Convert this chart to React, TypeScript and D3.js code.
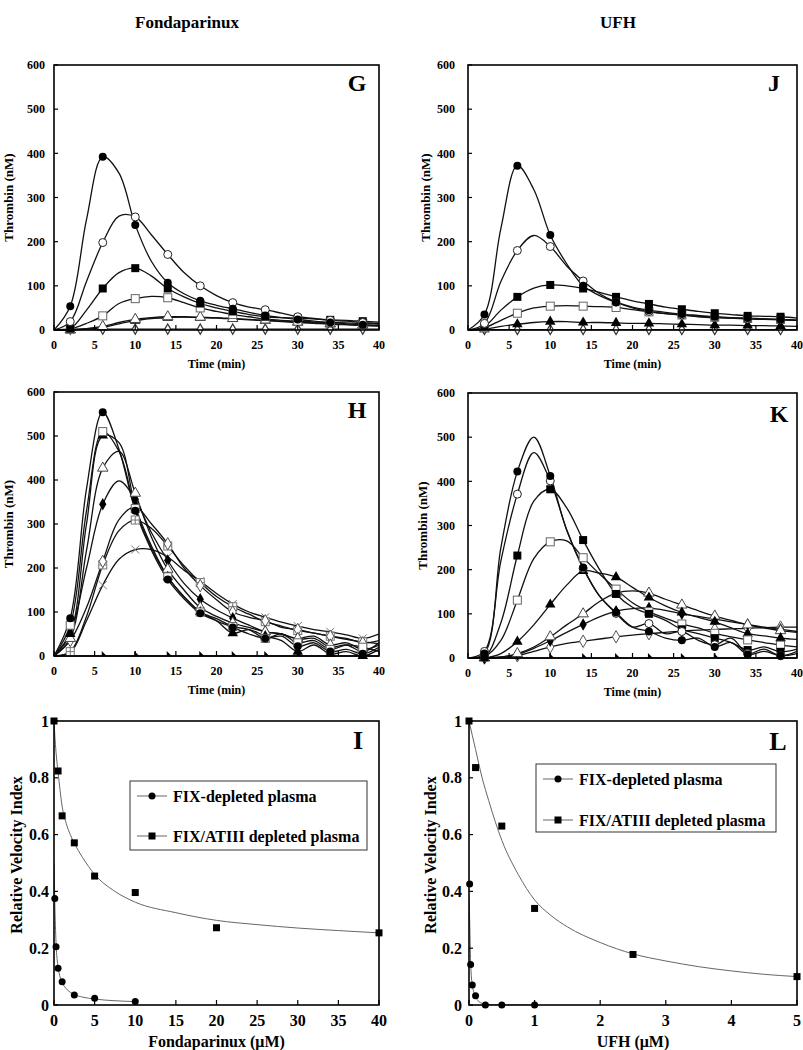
import React from 'react';
import * as d3 from 'd3';

const FONT = '"Times New Roman", "Liberation Serif", "DejaVu Serif", serif';

// ---------- shared grids / ticks ----------
const timeGrid = [0, 2, 4, 6, 8, 10, 12, 14, 16, 18, 20, 22, 24, 26, 28, 30, 32, 34, 36, 38, 40];
const markerTimes = [2, 6, 10, 14, 18, 22, 26, 30, 34, 38];
const timeTicks = [0, 5, 10, 15, 20, 25, 30, 35, 40];
const thrombinTicks = [0, 100, 200, 300, 400, 500, 600];
const rviTicks = [0, 0.2, 0.4, 0.6, 0.8, 1];
const rviTickLabels = ['0', '0.2', '0.4', '0.6', '0.8', '1'];
const fondaTicks = [0, 5, 10, 15, 20, 25, 30, 35, 40];
const ufhTicks = [0, 1, 2, 3, 4, 5];
const columnTitles = ['Fondaparinux', 'UFH'];

// ---------- Panel G (Fondaparinux, FIX-depleted) ----------
const gCircleFilled = [0, 54, 250, 392, 355, 238, 155, 107, 82, 66, 56, 48, 40, 33, 28, 24, 20, 17, 14, 12, 10];
const gCircleOpen = [0, 19, 110, 198, 258, 256, 215, 171, 130, 100, 78, 62, 52, 46, 38, 30, 26, 22, 20, 17, 15];
const gSquareFilled = [0, 3, 45, 94, 130, 140, 122, 94, 75, 60, 50, 42, 35, 30, 28, 27, 25, 23, 22, 20, 18];
const gSquareOpen = [0, 2, 15, 32, 60, 71, 76, 73, 62, 50, 42, 35, 30, 25, 22, 20, 18, 17, 16, 15, 13];
const gTriOpen = [0, 0, 3, 8, 17, 24, 28, 30, 30, 29, 28, 26, 24, 22, 20, 18, 16, 14, 12, 11, 10];
const gTriFilled = [0, 0, 2, 6, 14, 21, 26, 28, 29, 28, 27, 25, 23, 21, 19, 17, 15, 13, 12, 10, 9];
const gStar = [0, 2, 2, 2, 2, 2, 2, 2, 2, 2, 2, 2, 2, 2, 2, 2, 2, 2, 2, 2, 2];

// ---------- Panel J (UFH, FIX-depleted) ----------
const jCircleFilled = [0, 35, 230, 372, 318, 215, 150, 100, 78, 63, 52, 45, 40, 36, 33, 30, 28, 27, 25, 24, 22];
const jCircleOpen = [0, 15, 110, 180, 214, 189, 145, 111, 82, 63, 50, 42, 37, 34, 30, 28, 27, 25, 24, 23, 22];
const jSquareFilled = [0, 8, 45, 75, 95, 102, 100, 94, 85, 75, 66, 59, 52, 47, 42, 38, 35, 32, 31, 30, 27];
const jSquareOpen = [0, 5, 22, 38, 50, 54, 55, 54, 53, 51, 46, 41, 37, 34, 31, 29, 27, 26, 25, 24, 22];
const jTriFilled = [0, 2, 8, 13, 17, 19, 19, 17, 17, 16, 15, 15, 14, 13, 12, 11, 11, 10, 10, 9, 8];
const jStar = [0, 1, 1, 1, 1, 1, 1, 1, 1, 1, 1, 1, 1, 1, 1, 1, 1, 1, 1, 1, 1];

// ---------- Panel H (Fondaparinux, FIX/ATIII-depleted) ----------
const hCircleFilled = [0, 86, 380, 554, 470, 330, 240, 174, 130, 97, 80, 65, 50, 40, 45, 22, 30, 10, 15, 5, 20];
const hSquareOpen = [0, 70, 330, 510, 465, 335, 245, 180, 135, 100, 85, 67, 60, 40, 50, 30, 35, 15, 25, 20, 10];
const hTriFilled = [0, 50, 300, 501, 485, 340, 250, 180, 135, 100, 80, 52, 60, 45, 35, 10, 25, 5, 10, 0, 15];
const hTriOpen = [0, 40, 240, 427, 465, 370, 270, 197, 150, 110, 90, 75, 65, 55, 50, 40, 45, 25, 30, 15, 25];
const hDiamondFilled = [0, 52, 200, 345, 398, 356, 280, 217, 165, 129, 105, 86, 70, 55, 50, 38, 40, 20, 25, 10, 30];
const hDiamondOpen = [0, 35, 110, 215, 310, 339, 300, 255, 200, 160, 128, 100, 88, 80, 65, 60, 52, 45, 40, 30, 35];
const hSquareCross = [0, 10, 90, 207, 285, 309, 290, 250, 205, 167, 135, 112, 95, 78, 68, 58, 52, 45, 38, 32, 28];
const hCross = [0, 8, 80, 161, 220, 242, 242, 225, 195, 170, 142, 118, 100, 88, 77, 68, 60, 55, 48, 40, 50];
const hZero = [0, 0, 0, 0, 0, 0, 0, 0, 0, 0, 0, 0, 0, 0, 0, 0, 0, 0, 0, 0, 0];

// ---------- Panel K (UFH, FIX/ATIII-depleted) ----------
const kCircleFilled = [0, 10, 250, 422, 500, 412, 290, 205, 140, 103, 70, 60, 45, 40, 45, 25, 35, 8, 15, 5, 10];
const kCircleOpen = [0, 15, 220, 371, 465, 401, 290, 203, 140, 101, 70, 78, 55, 60, 40, 30, 45, 10, 20, 5, 15];
const kSquareFilled = [0, 2, 80, 232, 355, 382, 340, 267, 200, 145, 115, 100, 85, 65, 55, 45, 35, 18, 25, 14, 20];
const kSquareOpen = [0, 3, 40, 131, 225, 263, 265, 227, 190, 156, 125, 105, 90, 77, 68, 56, 48, 41, 35, 29, 25];
const kTriFilled = [0, 0, 10, 37, 75, 121, 165, 197, 192, 183, 160, 137, 118, 103, 92, 82, 68, 55, 50, 45, 42];
const kTriOpen = [0, 0, 2, 10, 25, 48, 75, 100, 128, 147, 152, 147, 133, 120, 107, 95, 85, 75, 68, 62, 58];
const kDiamondFilled = [0, 0, 2, 8, 22, 39, 58, 76, 93, 106, 112, 113, 108, 100, 94, 88, 82, 76, 70, 65, 60];
const kDiamondOpen = [0, 0, 2, 5, 15, 25, 33, 38, 43, 48, 52, 55, 58, 61, 63, 65, 66, 67, 69, 70, 70];
const kZero = [0, 0, 0, 0, 0, 0, 0, 0, 0, 0, 0, 0, 0, 0, 0, 0, 0, 0, 0, 0, 0];

// ---------- Panel I (Fondaparinux, relative velocity index) ----------
const iConcFix = [0.1, 0.25, 0.5, 1, 2.5, 5, 10];
const iVelFix = [0.375, 0.205, 0.129, 0.082, 0.035, 0.024, 0.012];
const iConcAt = [0, 0.5, 1, 2.5, 5, 10, 20, 40];
const iVelAt = [1.0, 0.824, 0.666, 0.571, 0.454, 0.396, 0.272, 0.254];
const iFitFixX = [0, 0.05, 0.1, 0.25, 0.5, 1, 1.5, 2.5, 3.5, 5, 7.5, 10];
const iFitFixY = [0.5, 0.43, 0.36, 0.22, 0.135, 0.08, 0.058, 0.037, 0.028, 0.021, 0.015, 0.012];
const iFitAtX = [0, 0.1, 0.25, 0.5, 1, 1.5, 2, 2.5, 3.5, 5, 7.5, 10, 15, 20, 25, 30, 35, 40];
const iFitAtY = [1.0, 0.95, 0.89, 0.82, 0.7, 0.64, 0.6, 0.57, 0.52, 0.46, 0.4, 0.362, 0.325, 0.298, 0.283, 0.271, 0.262, 0.254];

// ---------- Panel L (UFH, relative velocity index) ----------
const lConcFix = [0.01, 0.025, 0.05, 0.1, 0.25, 0.5, 1];
const lVelFix = [0.426, 0.143, 0.07, 0.033, 0, 0, 0];
const lConcAt = [0, 0.1, 0.5, 1, 2.5, 5];
const lVelAt = [1.0, 0.836, 0.63, 0.34, 0.178, 0.1];
const lFitFixX = [0, 0.01, 0.025, 0.05, 0.1, 0.15, 0.25, 0.5, 1];
const lFitFixY = [0.38, 0.3, 0.15, 0.07, 0.03, 0.012, 0.003, 0, 0];
const lFitAtX = [0, 0.05, 0.1, 0.2, 0.3, 0.5, 0.75, 1, 1.25, 1.5, 2, 2.5, 3, 3.5, 4, 4.5, 5];
const lFitAtY = [1.0, 0.95, 0.9, 0.8, 0.72, 0.58, 0.46, 0.37, 0.315, 0.275, 0.22, 0.18, 0.155, 0.135, 0.12, 0.108, 0.1];

const legendLabels = ['FIX-depleted plasma', 'FIX/ATIII depleted plasma'];

type Box = { l: number; r: number; t: number; b: number };
type Series = { values: number[]; marker: string };

function Marker({ type, x, y, s }: { type: string; x: number; y: number; s: number }) {
  const sym = (t: any, area: number) => d3.symbol(t, area)() as string;
  const tr = `translate(${x},${y})`;
  switch (type) {
    case 'circleFilled':
      return <circle cx={x} cy={y} r={s / 2} fill="#000" />;
    case 'circleOpen':
      return <circle cx={x} cy={y} r={s / 2} fill="#fff" stroke="#222" strokeWidth={1} />;
    case 'squareFilled':
      return <rect x={x - s / 2} y={y - s / 2} width={s} height={s} fill="#000" />;
    case 'squareOpen':
      return <rect x={x - s / 2} y={y - s / 2} width={s} height={s} fill="#fff" stroke="#666" strokeWidth={1} />;
    case 'triFilled':
      return <path transform={tr} d={sym(d3.symbolTriangle, s * s * 0.75)} fill="#000" />;
    case 'triOpen':
      return <path transform={tr} d={sym(d3.symbolTriangle, s * s * 0.75)} fill="#fff" stroke="#444" strokeWidth={1} />;
    case 'diamondFilled':
      return <path transform={tr} d={sym(d3.symbolDiamond, s * s * 0.7)} fill="#000" />;
    case 'diamondOpen':
      return <path transform={tr} d={sym(d3.symbolDiamond, s * s * 0.7)} fill="#fff" stroke="#555" strokeWidth={1} />;
    case 'star':
      return <path transform={tr} d={sym(d3.symbolDiamond, 30)} fill="#fff" stroke="#333" strokeWidth={1.2} />;
    case 'squareCross':
      return (
        <g>
          <rect x={x - s / 2} y={y - s / 2} width={s} height={s} fill="#fff" stroke="#777" strokeWidth={1} />
          <line x1={x - s / 2} x2={x + s / 2} y1={y} y2={y} stroke="#777" strokeWidth={1} />
          <line x1={x} x2={x} y1={y - s / 2} y2={y + s / 2} stroke="#777" strokeWidth={1} />
        </g>
      );
    case 'cross':
      return (
        <g stroke="#777" strokeWidth={1}>
          <line x1={x - s / 2} x2={x + s / 2} y1={y - s / 2} y2={y + s / 2} />
          <line x1={x - s / 2} x2={x + s / 2} y1={y + s / 2} y2={y - s / 2} />
        </g>
      );
    case 'zeroTri':
      return <path d={`M${x - 1},${y - 5} L${x + 4},${y} L${x - 1},${y} Z`} fill="#000" />;
    default:
      return null;
  }
}

function Frame({ box }: { box: Box }) {
  return <rect x={box.l} y={box.t} width={box.r - box.l} height={box.b - box.t} fill="none" stroke="#000" strokeWidth={1.6} />;
}

function ThrombinPanel({ id, box, series, letter, letterX, letterY, tickGap, titleX }: {
  id: string; box: Box; series: Series[]; letter: string; letterX: number; letterY: number; tickGap: number; titleX: number;
}) {
  const x = d3.scaleLinear().domain([0, 40]).range([box.l, box.r]);
  const y = d3.scaleLinear().domain([0, 600]).range([box.b, box.t]);
  const line = d3.line<number>()
    .x((_, i) => x(timeGrid[i]))
    .y((d) => y(d))
    .curve(d3.curveCatmullRom.alpha(0.5));
  return (
    <g>
      <defs>
        <clipPath id={`clip-${id}`}>
          <rect x={box.l} y={box.t} width={box.r - box.l} height={box.b - box.t + 1} />
        </clipPath>
      </defs>
      <g clipPath={`url(#clip-${id})`}>
        {series.map((s, k) => (
          <path key={k} d={line(s.values) as string} fill="none" stroke="#111" strokeWidth={1.3} />
        ))}
      </g>
      {series.map((s, k) => (
        <g key={k}>
          {markerTimes.map((t) => {
            const i = timeGrid.indexOf(t);
            return <Marker key={t} type={s.marker} x={x(t)} y={y(s.values[i])} s={s.marker === 'zeroTri' ? 6 : 8} />;
          })}
        </g>
      ))}
      <Frame box={box} />
      {thrombinTicks.map((v) => (
        <g key={v}>
          <line x1={box.l} x2={box.l + 4} y1={y(v)} y2={y(v)} stroke="#000" strokeWidth={1.2} />
          <text x={box.l - tickGap} y={y(v)} dy="0.35em" textAnchor="end" fontSize={12} fontWeight="bold" fontFamily={FONT}>{v}</text>
        </g>
      ))}
      {timeTicks.map((v) => (
        <g key={v}>
          <line x1={x(v)} x2={x(v)} y1={box.b} y2={box.b - 5} stroke="#000" strokeWidth={1.2} />
          <text x={x(v)} y={box.b + 15} dy="0.35em" textAnchor="middle" fontSize={12} fontWeight="bold" fontFamily={FONT}>{v}</text>
        </g>
      ))}
      <text x={(box.l + box.r) / 2} y={box.b + 34} dy="0.35em" textAnchor="middle" fontSize={12} fontWeight="bold" fontFamily={FONT}>Time (min)</text>
      <text transform={`translate(${titleX},${(box.t + box.b) / 2}) rotate(-90)`} dy="0.35em" textAnchor="middle" fontSize={13} fontWeight="bold" fontFamily={FONT}>Thrombin (nM)</text>
      <text x={letterX} y={letterY} textAnchor="middle" fontSize={24} fontWeight="bold" fontFamily={FONT}>{letter}</text>
    </g>
  );
}

function RviPanel({ id, box, xMax, xTicks, xTitle, fixX, fixY, atX, atY, fitFixX, fitFixY, fitAtX, fitAtY, letter, letterX, letterY, legend, tickGap, titleX }: any) {
  const x = d3.scaleLinear().domain([0, xMax]).range([box.l, box.r]);
  const y = d3.scaleLinear().domain([0, 1]).range([box.b, box.t]);
  const fit = (xs: number[], ys: number[]) =>
    d3.line<number>().x((d) => x(d)).y((_, i) => y(ys[i])).curve(d3.curveMonotoneX)(xs) as string;
  return (
    <g>
      <defs>
        <clipPath id={`clip-${id}`}>
          <rect x={box.l} y={box.t} width={box.r - box.l} height={box.b - box.t} />
        </clipPath>
      </defs>
      <g clipPath={`url(#clip-${id})`}>
        <path d={fit(fitFixX, fitFixY)} fill="none" stroke="#666" strokeWidth={1} />
        <path d={fit(fitAtX, fitAtY)} fill="none" stroke="#666" strokeWidth={1} />
      </g>
      {fixX.map((c: number, i: number) => (
        <circle key={`f${i}`} cx={x(c)} cy={y(fixY[i])} r={3.5} fill="#000" />
      ))}
      {atX.map((c: number, i: number) => (
        <rect key={`a${i}`} x={x(c) - 3.5} y={y(atY[i]) - 3.5} width={7} height={7} fill="#000" />
      ))}
      <Frame box={box} />
      {rviTicks.map((v, i) => (
        <g key={v}>
          <line x1={box.l} x2={box.l + 4} y1={y(v)} y2={y(v)} stroke="#000" strokeWidth={1.2} />
          <text x={box.l - tickGap} y={y(v)} dy="0.35em" textAnchor="end" fontSize={16} fontWeight="bold" fontFamily={FONT}>{rviTickLabels[i]}</text>
        </g>
      ))}
      {xTicks.map((v: number) => (
        <g key={v}>
          <line x1={x(v)} x2={x(v)} y1={box.b} y2={box.b - 5} stroke="#000" strokeWidth={1.2} />
          <text x={x(v)} y={box.b + 15} dy="0.35em" textAnchor="middle" fontSize={16} fontWeight="bold" fontFamily={FONT}>{v}</text>
        </g>
      ))}
      <text x={(box.l + box.r) / 2} y={box.b + 36} dy="0.35em" textAnchor="middle" fontSize={16} fontWeight="bold" fontFamily={FONT}>{xTitle}</text>
      <text transform={`translate(${titleX},${(box.t + box.b) / 2 - 8}) rotate(-90)`} dy="0.35em" textAnchor="middle" fontSize={16} fontWeight="bold" fontFamily={FONT}>Relative Velocity Index</text>
      <text x={letterX} y={letterY} textAnchor="middle" fontSize={26} fontWeight="bold" fontFamily={FONT}>{letter}</text>
      <g>
        <rect x={legend.x} y={legend.y} width={legend.w} height={legend.h} fill="#fff" stroke="#333" strokeWidth={1} />
        {legendLabels.map((lab, i) => {
          const ly = legend.y + legend.rows[i];
          return (
            <g key={lab}>
              <line x1={legend.x + 7} x2={legend.x + 37} y1={ly} y2={ly} stroke="#666" strokeWidth={1} />
              {i === 0 ? (
                <circle cx={legend.x + 22} cy={ly} r={3.5} fill="#000" />
              ) : (
                <rect x={legend.x + 18.5} y={ly - 3.5} width={7} height={7} fill="#000" />
              )}
              <text x={legend.x + 43} y={ly} dy="0.35em" fontSize={16} fontWeight="bold" fontFamily={FONT}>{lab}</text>
            </g>
          );
        })}
      </g>
    </g>
  );
}

export default function App() {
  const G: Series[] = [
    { values: gStar, marker: 'star' },
    { values: gTriFilled, marker: 'triFilled' },
    { values: gTriOpen, marker: 'triOpen' },
    { values: gSquareOpen, marker: 'squareOpen' },
    { values: gSquareFilled, marker: 'squareFilled' },
    { values: gCircleOpen, marker: 'circleOpen' },
    { values: gCircleFilled, marker: 'circleFilled' },
  ];
  const J: Series[] = [
    { values: jStar, marker: 'star' },
    { values: jTriFilled, marker: 'triFilled' },
    { values: jSquareOpen, marker: 'squareOpen' },
    { values: jSquareFilled, marker: 'squareFilled' },
    { values: jCircleOpen, marker: 'circleOpen' },
    { values: jCircleFilled, marker: 'circleFilled' },
  ];
  const H: Series[] = [
    { values: hZero, marker: 'zeroTri' },
    { values: hCross, marker: 'cross' },
    { values: hSquareCross, marker: 'squareCross' },
    { values: hDiamondOpen, marker: 'diamondOpen' },
    { values: hDiamondFilled, marker: 'diamondFilled' },
    { values: hTriOpen, marker: 'triOpen' },
    { values: hTriFilled, marker: 'triFilled' },
    { values: hSquareOpen, marker: 'squareOpen' },
    { values: hCircleFilled, marker: 'circleFilled' },
  ];
  const K: Series[] = [
    { values: kZero, marker: 'zeroTri' },
    { values: kDiamondOpen, marker: 'diamondOpen' },
    { values: kDiamondFilled, marker: 'diamondFilled' },
    { values: kTriOpen, marker: 'triOpen' },
    { values: kTriFilled, marker: 'triFilled' },
    { values: kSquareOpen, marker: 'squareOpen' },
    { values: kSquareFilled, marker: 'squareFilled' },
    { values: kCircleOpen, marker: 'circleOpen' },
    { values: kCircleFilled, marker: 'circleFilled' },
  ];
  return (
    <svg width={803} height={1050} style={{ position: 'absolute', left: 0, top: 0, background: '#fff' }}>
      <rect x={0} y={0} width={803} height={1050} fill="#fff" />
      <text x={187} y={22} dy="0.35em" textAnchor="middle" fontSize={17} fontWeight="bold" fontFamily={FONT}>{columnTitles[0]}</text>
      <text x={618} y={22} dy="0.35em" textAnchor="middle" fontSize={17} fontWeight="bold" fontFamily={FONT}>{columnTitles[1]}</text>
      <ThrombinPanel id="G" box={{ l: 54, r: 379, t: 65, b: 330 }} series={G} letter="G" letterX={357} letterY={91} tickGap={9} titleX={8} />
      <ThrombinPanel id="J" box={{ l: 468, r: 797, t: 65, b: 330 }} series={J} letter="J" letterX={774} letterY={91} tickGap={13} titleX={425} />
      <ThrombinPanel id="H" box={{ l: 54, r: 379, t: 392, b: 656 }} series={H} letter="H" letterX={357} letterY={418} tickGap={9} titleX={8} />
      <ThrombinPanel id="K" box={{ l: 468, r: 797, t: 393, b: 658 }} series={K} letter="K" letterX={779} letterY={422} tickGap={13} titleX={422} />
      <RviPanel id="I" box={{ l: 54, r: 379, t: 721, b: 1005 }} xMax={40} xTicks={fondaTicks} xTitle="Fondaparinux (μM)"
        fixX={iConcFix} fixY={iVelFix} atX={iConcAt} atY={iVelAt}
        fitFixX={iFitFixX} fitFixY={iFitFixY} fitAtX={iFitAtX} fitAtY={iFitAtY}
        letter="I" letterX={358} letterY={749} tickGap={5}
        titleX={16}
        legend={{ x: 130, y: 781, w: 237, h: 69, rows: [15, 55] }} />
      <RviPanel id="L" box={{ l: 469, r: 797, t: 721, b: 1005 }} xMax={5} xTicks={ufhTicks} xTitle="UFH (μM)"
        fixX={lConcFix} fixY={lVelFix} atX={lConcAt} atY={lVelAt}
        fitFixX={lFitFixX} fitFixY={lFitFixY} fitAtX={lFitAtX} fitAtY={lFitAtY}
        letter="L" letterX={778} letterY={750} tickGap={7}
        titleX={430}
        legend={{ x: 536, y: 764, w: 240, h: 68, rows: [15, 56] }} />
    </svg>
  );
}
